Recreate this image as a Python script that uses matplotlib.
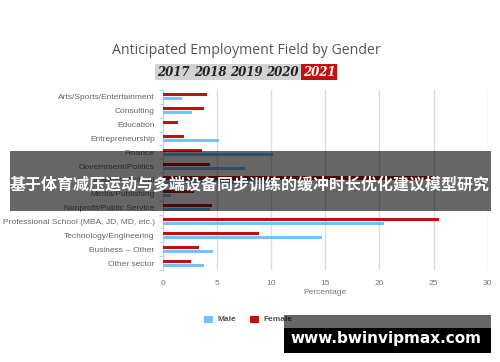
import matplotlib
matplotlib.use("Agg")
import matplotlib.pyplot as plt
from matplotlib.patches import Rectangle
import numpy as np

categories = ["Arts/Sports/Entertainment", "Consulting", "Education", "Entrepreneurship",
              "Finance", "Government/Politics", "Graduate School", "Media/Publishing",
              "Nonprofit/Public Service", "Professional School (MBA, JD, MD, etc.)",
              "Technology/Engineering", "Business -- Other", "Other sector"]
male = [1.8, 2.7, 0.0, 5.2, 10.2, 7.6, 10.0, 0.75, 4.3, 20.4, 14.7, 4.6, 3.8]
female = [4.1, 3.8, 1.4, 1.9, 3.6, 4.3, 25.3, 2.85, 4.5, 25.5, 8.9, 3.35, 2.6]
xticks = [0, 5, 10, 15, 20, 25, 30]
years = ["2017", "2018", "2019", "2020", "2021"]

W, H = 500, 362
fig = plt.figure(figsize=(W / 100, H / 100), dpi=100)
fig.patch.set_facecolor("white")

def fx(px):
    return px / W

def fy(py):
    return 1 - py / H

ax = fig.add_axes([fx(163), fy(270), fx(487.7) - fx(163), (270 - 90) / H])
n = len(categories)
y = np.arange(n)
bh = 0.22
off = 0.145
ax.barh(y - off, female, height=bh, color="#c40f0f", zorder=3)
ax.barh(y + off, male, height=bh, color="#74c2ff", zorder=3)
ax.set_ylim(n - 0.5, -0.5)
ax.set_xlim(0, 30)
ax.set_xticks(xticks)
ax.set_xticklabels([str(t) for t in xticks], fontsize=6, color="#777777",
                   family="Liberation Sans")
ax.set_yticks(y)
ax.set_yticklabels(categories, fontsize=6.0, color="#666666", family="Liberation Sans")
ax.set_yticks(np.arange(-0.5, n, 1), minor=True)
ax.tick_params(axis="y", which="major", length=0, pad=6)
ax.tick_params(axis="y", which="minor", length=3, color="#c8d4e4", width=0.8)
ax.tick_params(axis="x", length=0, pad=7)
ax.grid(axis="x", color="#dddddd", linewidth=1, zorder=0)
for s in ["top", "right", "bottom"]:
    ax.spines[s].set_visible(False)
ax.spines["left"].set_color("#c8d4e4")
ax.spines["left"].set_linewidth(0.8)
ax.set_xlabel("Percentage", fontsize=6, color="#777777", family="Liberation Sans",
              labelpad=2)

# Title
fig.text(fx(246), fy(50), "Anticipated Employment Field by Gender", fontsize=10.2,
         color="#555555", ha="center", va="center", family="Open Sans")

# Year tabs
fig.patches.append(Rectangle((fx(155), fy(80)), fx(301) - fx(155), 16 / H,
                             transform=fig.transFigure, facecolor="#d3d3d3",
                             edgecolor="none"))
fig.patches.append(Rectangle((fx(301), fy(80)), fx(337) - fx(301), 16 / H,
                             transform=fig.transFigure, facecolor="#c40f0f",
                             edgecolor="none"))
year_x = [173, 210, 246, 282, 319]
for yr, xx in zip(years, year_x):
    fig.text(fx(xx), fy(72.5), yr, fontsize=8.5, ha="center", va="center",
             style="italic", weight="bold", family="DejaVu Serif",
             color="white" if yr == "2021" else "#222222")

# Legend
fig.patches.append(Rectangle((fx(204), fy(323)), 9 / W, 7 / H, transform=fig.transFigure,
                             facecolor="#74c2ff", edgecolor="none"))
fig.text(fx(217), fy(319.5), "Male", fontsize=6, color="#555555", va="center",
         family="Liberation Sans", weight="bold")
fig.patches.append(Rectangle((fx(250), fy(323)), 9 / W, 7 / H, transform=fig.transFigure,
                             facecolor="#c40f0f", edgecolor="none"))
fig.text(fx(263), fy(319.5), "Female", fontsize=6, color="#555555", va="center",
         family="Liberation Sans", weight="bold")

# Overlay band with Chinese text
fig.patches.append(Rectangle((fx(10), fy(210.5)), fx(490.5) - fx(10), 60 / H,
                             transform=fig.transFigure, facecolor="black", alpha=0.6,
                             edgecolor="none", zorder=10))
fig.text(fx(250), fy(185), "基于体育减压运动与多端设备同步训练的缓冲时长优化建议模型研究",
         fontsize=11.5, color="white", weight="bold", ha="center", va="center",
         family=["Noto Sans CJK SC", "DejaVu Sans"], zorder=11)

# Watermark box
fig.patches.append(Rectangle((fx(284), fy(328)), fx(491) - fx(284), 13 / H,
                             transform=fig.transFigure, facecolor="black", alpha=0.6,
                             edgecolor="none", zorder=10))
fig.patches.append(Rectangle((fx(284), fy(353)), fx(491) - fx(284), 25 / H,
                             transform=fig.transFigure, facecolor="black",
                             edgecolor="none", zorder=10))
fig.text(fx(386), fy(338), "www.bwinvipmax.com", fontsize=11, color="white",
         weight="bold", ha="center", va="center", family="DejaVu Sans", zorder=11)

fig.savefig("out.png", dpi=100)
